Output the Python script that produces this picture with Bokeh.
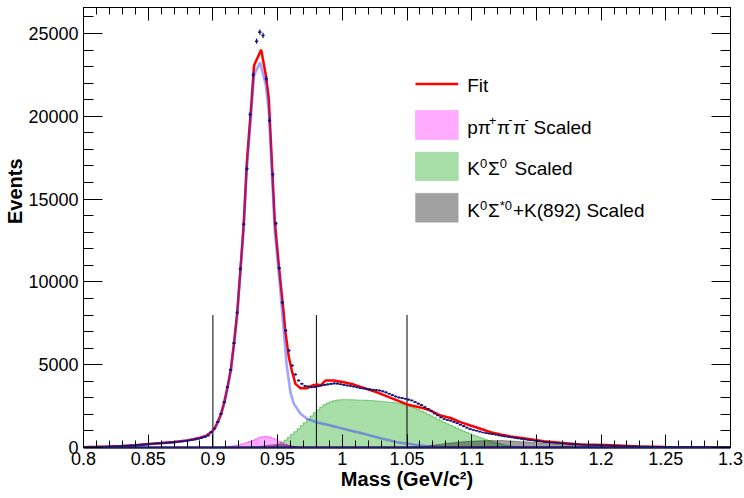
import numpy as np
from bokeh.plotting import figure
from bokeh.models import (Range1d, LinearAxis, FixedTicker, CustomJSTickFormatter,
                          Label, BoxAnnotation, Title)
from bokeh.embed import file_html
from bokeh.resources import INLINE

# ---------------- data ----------------
BIN = 0.0025
data_first_center = 0.80125
data_counts = [
    18, 22, 26, 32, 38, 42, 48, 54, 60, 66,
    74, 82, 92, 102, 114, 128, 142, 156, 172, 190,
    210, 222, 238, 252, 268, 282, 296, 312, 330, 350,
    372, 396, 425, 455, 490, 530, 580, 640, 720, 930,
    1150, 1550, 2030, 2740, 3650, 4690, 6300, 8150, 10790, 13485,
    16830, 20110, 22500, 24535, 25080, 24880, 22265, 19750, 16485, 13527,
    10830, 8750, 7065, 5860, 4950, 4410, 4045, 3850, 3720, 3680,
    3640, 3660, 3700, 3740, 3780, 3810, 3840, 3870, 3860, 3820,
    3780, 3745, 3710, 3680, 3640, 3600, 3570, 3540, 3510, 3490,
    3470, 3440, 3390, 3330, 3250, 3160, 3080, 3020, 2980, 2940,
    2890, 2840, 2740, 2650, 2560, 2440, 2340, 2200, 2060, 1940,
    1820, 1720, 1660, 1620, 1550, 1470, 1380, 1290, 1200, 1110,
    1060, 1010, 960, 910, 870, 840, 810, 770, 730, 700,
    670, 640, 610, 580, 550, 520, 490, 460, 435, 410,
    385, 360, 340, 320, 300, 285, 270, 255, 240, 228,
    216, 205, 195, 185, 176, 168, 160, 152, 145, 138,
    128, 120, 113, 106, 100, 94, 88, 83, 78, 73,
    68, 64, 60, 56, 52, 49, 46, 43, 40, 38,
    36, 34, 32, 30, 28, 26, 25, 24, 22, 21,
    20, 19, 18, 17, 16, 15, 14, 13, 12, 12,
]

fit_mass = [0.800, 0.810, 0.820, 0.830, 0.840, 0.850, 0.860, 0.870, 0.880, 0.885,
            0.890, 0.895, 0.8988, 0.9013, 0.9038, 0.9063, 0.9088, 0.9113, 0.9138, 0.9163,
            0.9188, 0.9213, 0.9238, 0.9262, 0.9297, 0.9318, 0.9373, 0.9412, 0.9432, 0.9478,
            0.9512, 0.9545, 0.9560, 0.9587, 0.9613, 0.9638, 0.9677, 0.9729, 0.9767, 0.9806,
            0.9832, 0.9870, 0.9935, 1.0012, 1.0090, 1.0243, 1.0501, 1.0604, 1.0680, 1.0759,
            1.0836, 1.0913, 1.0990, 1.1068, 1.1145, 1.1222, 1.1300, 1.1429, 1.1557, 1.1686,
            1.1840, 1.2040, 1.2304, 1.2500, 1.2700, 1.3000]
fit_vals = [20, 38, 58, 88, 135, 205, 265, 330, 430, 500,
            590, 720, 930, 1150, 1550, 2030, 2740, 3650, 4690, 6300,
            8150, 10790, 13485, 17200, 20750, 23070, 24020, 22360, 21060, 13700,
            10800, 8300, 7000, 5450, 4550, 3845, 3580, 3580, 3745, 3800,
            3745, 4045, 4045, 3945, 3800, 3400, 2600, 2420, 2235, 1930,
            1780, 1530, 1330, 1130, 925, 785, 665, 525, 380, 280,
            180, 150, 60, 30, 15, 10]

sig_mass = [0.800, 0.810, 0.820, 0.830, 0.840, 0.850, 0.860, 0.870, 0.880, 0.885,
            0.890, 0.895, 0.8988, 0.9013, 0.9038, 0.9063, 0.9088, 0.9113, 0.9138, 0.9163,
            0.9188, 0.9213, 0.9238, 0.9262, 0.9297, 0.9318, 0.9365, 0.9409, 0.9432, 0.9478,
            0.9512, 0.9545, 0.9570, 0.9600, 0.9625, 0.9677, 0.9729, 0.9800, 0.9909, 1.0038,
            1.0166, 1.0295, 1.0424, 1.0553, 1.0650, 1.0750, 1.0850, 1.3000]
sig_vals = [15, 33, 52, 82, 128, 195, 255, 320, 420, 490,
            575, 700, 900, 1120, 1510, 1980, 2680, 3580, 4610, 6190,
            8010, 10610, 13260, 16750, 20300, 22500, 23250, 21900, 20300, 13100,
            10300, 7300, 5000, 3300, 2650, 2035, 1730, 1530, 1330, 1070,
            825, 560, 320, 180, 80, 20, 0, 0]

pink_start = 0.900
pink_vals = [8, 15, 25, 40, 55, 75, 100, 135, 180, 230,
             290, 360, 430, 510, 590, 650, 660, 630, 560, 470,
             370, 270, 180, 110, 60, 25]

green_start = 0.945
green_vals = [60, 130, 220, 330, 450, 600, 780, 950, 1130, 1320,
              1500, 1700, 1900, 2100, 2270, 2430, 2580, 2680, 2760, 2820,
              2860, 2880, 2890, 2890, 2880, 2880, 2870, 2860, 2860, 2850,
              2840, 2830, 2810, 2800, 2780, 2760, 2740, 2720, 2700, 2670,
              2630, 2580, 2520, 2450, 2380, 2290, 2200, 2110, 2010, 1910,
              1810, 1710, 1610, 1520, 1430, 1340, 1250, 1160, 1070, 990,
              910, 830, 750, 680, 610, 540, 470, 410, 350, 290,
              240, 190, 140, 100, 60, 30]

gray1_start = 0.930
gray1_vals = [15, 35, 60, 90, 120, 150, 170, 185, 190, 180,
              160, 130, 95, 60, 30, 10]

gray2_start = 1.050
gray2_vals = [10, 20, 30, 45, 60, 80, 100, 125, 150, 175,
              200, 225, 250, 270, 290, 310, 330, 345, 360, 375,
              385, 395, 405, 410, 415, 420, 430, 430, 425, 420,
              410, 400, 390, 378, 365, 352, 340, 328, 315, 302,
              290, 276, 262, 248, 234, 220, 205, 190, 175, 160,
              145, 130, 115, 100, 86, 72, 58, 45, 33, 22,
              13, 6]

cut_mass = [0.90, 0.98, 1.05]
cut_height = 8000

x_ticks = [0.8, 0.85, 0.9, 0.95, 1.0, 1.05, 1.1, 1.15, 1.2, 1.25, 1.3]
y_ticks = [0, 5000, 10000, 15000, 20000, 25000]

# ---------------- layout ----------------
X0, X1 = 0.8, 1.3
Y0, Y1 = 0, 26570
W, H = 744, 498
FL, FR, FT, FB = 83, 730, 7, 447      # frame edges in canvas pixels
FONT = "Liberation Sans"
NAVY = "#14147a"

def dx(px):
    return X0 + (px - FL) * (X1 - X0) / (FR - FL)

def dy(py):
    return Y0 + (FB - py) * (Y1 - Y0) / (FB - FT)

p = figure(width=W, height=H, x_range=Range1d(X0, X1), y_range=Range1d(Y0, Y1),
           output_backend="svg", toolbar_location=None,
           min_border_left=FL, min_border_right=W - FR,
           min_border_top=FT, min_border_bottom=H - FB)
p.grid.visible = False
p.outline_line_color = "black"
p.outline_line_width = 1
p.background_fill_color = "white"
p.border_fill_color = "white"

x_minor = list(np.round(np.arange(0.80, 1.3001, 0.01), 2))
y_minor = list(range(0, 27000, 1000))
fmt = CustomJSTickFormatter(code="return tick.toString();")
blank = CustomJSTickFormatter(code="return '';")

def style_axis(ax, ticks, minor, major_len, minor_len, show):
    ax.ticker = FixedTicker(ticks=ticks, minor_ticks=minor)
    ax.major_tick_in = major_len
    ax.major_tick_out = 0
    ax.minor_tick_in = minor_len
    ax.minor_tick_out = 0
    ax.major_tick_line_color = "black"
    ax.minor_tick_line_color = "black"
    ax.axis_line_color = "black"
    if show:
        ax.formatter = fmt
        ax.major_label_text_font = FONT
        ax.major_label_text_font_size = "18px"
        ax.major_label_text_color = "black"
    else:
        ax.formatter = blank
        ax.major_label_text_font_size = "0px"
        ax.major_label_standoff = 0

xa = p.xaxis[0]
style_axis(xa, x_ticks, x_minor, 13, 7, True)
xa.major_label_standoff = 4
xa.axis_line_color = "#221a66"
xa.axis_line_width = 2.5
xa.axis_label = "Mass (GeV/c²)"
xa.axis_label_text_font = FONT
xa.axis_label_text_font_size = "20px"
xa.axis_label_text_font_style = "bold"
xa.axis_label_text_color = "black"
xa.axis_label_standoff = 0

ya = p.yaxis[0]
style_axis(ya, y_ticks, y_minor, 19, 10, True)
ya.major_label_standoff = 5

top_ax = LinearAxis()
style_axis(top_ax, x_ticks, x_minor, 13, 7, False)
p.add_layout(top_ax, "above")
right_ax = LinearAxis()
style_axis(right_ax, y_ticks, y_minor, 19, 10, False)
p.add_layout(right_ax, "right")

p.add_layout(Title(text="Events", align="right", offset=151, standoff=0,
                   text_font=FONT, text_font_size="20px", text_font_style="bold",
                   text_color="black"), "left")

# ---------------- histograms ----------------
def hist(start, vals, color, alpha, line_alpha):
    edges = start + BIN * np.arange(len(vals) + 1)
    ys = list(vals) + [vals[-1]]
    p.varea_step(x=edges, y1=0, y2=ys, step_mode="after",
                 fill_color=color, fill_alpha=alpha)
    p.step(x=edges, y=ys, mode="after", line_color=color,
           line_alpha=line_alpha, line_width=1)

GREEN = "#00a000"
PINK = "#ff00ff"
GRAY = "#000000"
hist(green_start, green_vals, GREEN, 0.34, 0.45)
hist(gray2_start, gray2_vals, GRAY, 0.37, 0.3)
hist(gray1_start, gray1_vals, GRAY, 0.37, 0.3)
hist(pink_start, pink_vals, PINK, 0.33, 0.5)

# cut lines
p.segment(x0=cut_mass, y0=0, x1=cut_mass, y1=cut_height,
          line_color="black", line_width=1)

# fit and signal curves
p.line(fit_mass, fit_vals, line_color="#ff0000", line_width=2.5)
p.line(sig_mass, sig_vals, line_color="#3333ff", line_alpha=0.45, line_width=2.6)

# data points
mass = data_first_center + BIN * np.arange(len(data_counts))
cnt = np.array(data_counts, dtype=float)
err = np.sqrt(cnt)
p.segment(x0=mass - BIN / 2, y0=cnt, x1=mass + BIN / 2, y1=cnt,
          line_color=NAVY, line_width=1.6)
p.segment(x0=mass, y0=cnt - err, x1=mass, y1=cnt + err,
          line_color=NAVY, line_width=1.3)

# ---------------- legend ----------------
SW_L, SW_R = 415, 457.7
p.add_layout(BoxAnnotation(left=dx(SW_L), right=dx(SW_R), top=dy(82.2), bottom=dy(84.7),
                           fill_color="#ff0000", fill_alpha=1.0, line_color=None))
for top, bot, fc, fa, lc in [(110, 139, PINK, 0.33, "#ff66ff"),
                              (151.7, 180, GREEN, 0.34, "#66bb66"),
                              (192.7, 221.7, GRAY, 0.37, "#8a8a8a")]:
    p.add_layout(BoxAnnotation(left=dx(SW_L), right=dx(SW_R), top=dy(top), bottom=dy(bot),
                               fill_color=fc, fill_alpha=fa, line_color=lc, line_width=1))

def txt(s, px, mid, size="19px"):
    p.add_layout(Label(x=dx(px), y=dy(mid), text=s, text_font=FONT,
                       text_font_size=size, text_align="left",
                       text_baseline="middle", text_color="black"))

def sup(s, px, mid, lift=5):
    txt(s, px, mid - lift, "13px")

TX = 466.7
txt("Fit", TX, 85)
m = 127
txt("p", TX, m); txt("π", 477.3, m); sup("+", 488.3, m, 7)
txt("π", 496.4, m); sup("-", 507.8, m, 8); txt("π", 512.6, m); sup("-", 524.0, m, 8)
txt("Scaled", 533.0, m)
m = 168.3
txt("K", TX, m); sup("0", 479.6, m); txt("Σ", 487.5, m); sup("0", 499.2, m)
txt("Scaled", 514, m)
m = 209.5
txt("K", TX, m); sup("0", 479.6, m); txt("Σ", 487.5, m); sup("*0", 499.2, m)
txt("+K(892) Scaled", 512.5, m)

open("out.html", "w").write(file_html(p, INLINE))
